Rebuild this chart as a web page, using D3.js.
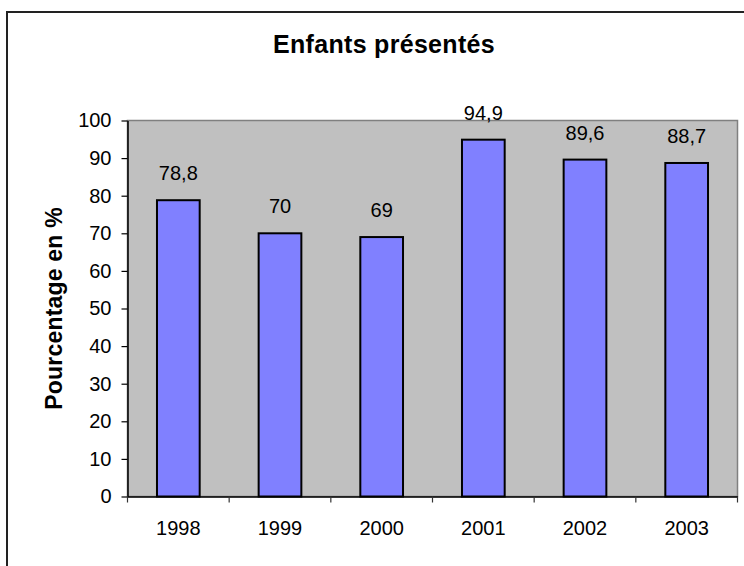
<!DOCTYPE html>
<html><head><meta charset="utf-8">
<script src="https://cdn.jsdelivr.net/npm/d3@7/dist/d3.min.js"></script>
<style>
html,body{margin:0;padding:0;background:#fff;}
svg{display:block;font-family:"Liberation Sans",Arial,sans-serif;}
</style></head>
<body>
<svg id="chart" width="744" height="566"></svg>
<script>
const categories = ["1998","1999","2000","2001","2002","2003"];
const values = [78.8, 70, 69, 94.9, 89.6, 88.7];
const valueLabels = ["78,8","70","69","94,9","89,6","88,7"];
const yTicks = [0,10,20,30,40,50,60,70,80,90,100];
const title = "Enfants présentés";
const yTitle = "Pourcentage en %";

const svg = d3.select("#chart");
const plot = {left:127.5, right:737.5, top:120.5, bottom:496.5};

// outer frame
svg.append("rect").attr("x",7).attr("y",12).attr("width",800).attr("height",600)
  .attr("fill","none").attr("stroke","#222").attr("stroke-width",2);

const x = d3.scaleBand().domain(categories).range([plot.left, plot.right]).padding(0);
const y = d3.scaleLinear().domain([0,100]).range([plot.bottom, plot.top]);

// plot background
svg.append("rect").attr("x",plot.left).attr("y",plot.top)
  .attr("width",plot.right-plot.left).attr("height",plot.bottom-plot.top)
  .attr("fill","#C0C0C0").attr("stroke","#808080").attr("stroke-width",1.5);

// bars
const barFrac = 0.42;
svg.append("g").selectAll("rect").data(values).join("rect")
  .attr("x",(d,i)=>x(categories[i]) + x.bandwidth()*(1-barFrac)/2)
  .attr("width",x.bandwidth()*barFrac)
  .attr("y",d=>y(d))
  .attr("height",d=>y(0)-y(d))
  .attr("fill","#8080FF").attr("stroke","#000").attr("stroke-width",2);

// value labels
svg.append("g").selectAll("text").data(values).join("text")
  .attr("x",(d,i)=>x(categories[i]) + x.bandwidth()/2)
  .attr("y",d=>y(d)-20)
  .attr("text-anchor","middle")
  .attr("font-size",20).attr("fill","#000")
  .text((d,i)=>valueLabels[i]);

// y axis
const yAxis = svg.append("g").attr("transform",`translate(${plot.left},0)`)
  .call(d3.axisLeft(y).tickValues(yTicks).tickSize(6).tickSizeOuter(0).tickFormat(d3.format("d")));
yAxis.select(".domain").attr("stroke","#000").attr("stroke-width",1.5);
yAxis.selectAll(".tick line").attr("stroke","#000").attr("stroke-width",1.2);
yAxis.selectAll(".tick text").attr("font-size",20).attr("fill","#000")
  .attr("font-family","Liberation Sans, Arial, sans-serif").attr("x",-16);

// x axis labels
const xAxis = svg.append("g").attr("transform",`translate(0,${plot.bottom})`)
  .call(d3.axisBottom(x).tickSize(0).tickSizeOuter(0));
xAxis.select(".domain").attr("stroke","#000").attr("stroke-width",1.5);
xAxis.selectAll(".tick text").attr("font-size",20).attr("fill","#000")
  .attr("font-family","Liberation Sans, Arial, sans-serif").attr("dy","1.75em");

// x boundary ticks
const bounds = categories.map(c=>x(c)).concat([x.range()[1]]);
svg.append("g").selectAll("line").data(bounds).join("line")
  .attr("x1",d=>d).attr("x2",d=>d)
  .attr("y1",plot.bottom).attr("y2",plot.bottom+6)
  .attr("stroke","#333").attr("stroke-width",1.2);

// title
svg.append("text").attr("x",384).attr("y",53).attr("text-anchor","middle")
  .attr("font-size",25).attr("font-weight","bold").attr("letter-spacing","0.3px")
  .text(title);

// y title
svg.append("text").attr("transform",`translate(62,${(plot.top+plot.bottom)/2}) rotate(-90)`)
  .attr("text-anchor","middle").attr("font-size",23).attr("font-weight","bold")
  .attr("letter-spacing","0.2px")
  .text(yTitle);
</script>
</body></html>
